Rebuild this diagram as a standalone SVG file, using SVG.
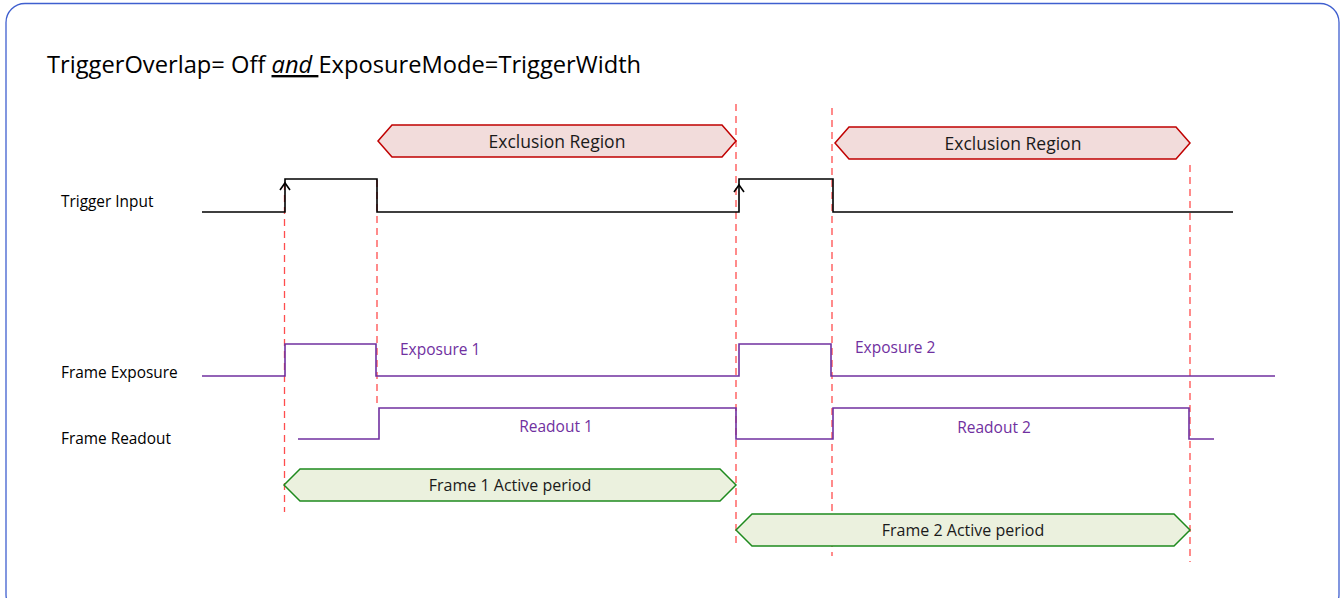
<svg xmlns="http://www.w3.org/2000/svg" width="1341" height="598" viewBox="0 0 1341 598">
<style>
text{font-family:"Open Sans",Lato,"Liberation Sans",sans-serif}
.lbl{font-size:15.4px;fill:#000}
.plbl{font-size:15.5px;fill:#7030a0}
.btxt{font-size:17.5px;fill:#1a1a1a;text-anchor:middle;dominant-baseline:central}
.atxt{font-size:16px}
.dash{stroke:#ff4d4d;stroke-width:1.3;stroke-dasharray:7,5;fill:none}
.sigk{stroke:#000;stroke-width:1.6;fill:none}
.sigp{stroke:#7030a0;stroke-width:1.6;fill:none}
.exc{fill:#f2dcdb;stroke:#c00000;stroke-width:1.5}
.act{fill:#ebf1de;stroke:#1e8a1e;stroke-width:1.5}
</style>
<rect x="6" y="3.5" width="1333" height="610" rx="19" fill="#fff" stroke="#3f5fcf" stroke-width="1.3"/>
<text x="47" y="73" font-size="23.7" fill="#000">TriggerOverlap= Off <tspan font-style="italic" text-decoration="underline">and </tspan>ExposureMode=TriggerWidth</text>
<g id="labels">
<text class="lbl" x="61" y="207">Trigger Input</text>
<text class="lbl" x="61" y="378">Frame Exposure</text>
<text class="lbl" x="61" y="444">Frame Readout</text>
</g>
<g id="guides">
<line class="dash" x1="284.5" y1="183" x2="284.5" y2="512"/>
<line class="dash" x1="377" y1="180" x2="377" y2="405"/>
<line class="dash" x1="736" y1="104" x2="736" y2="546"/>
<line class="dash" x1="832" y1="108" x2="832" y2="556"/>
<line class="dash" x1="1190" y1="165" x2="1190" y2="562"/>
</g>
<g id="trigger">
<path class="sigk" d="M202,212 H285 V179 H377 V212 H739 V179 H833 V212 H1233"/>
<path class="sigk" stroke-width="1.1" d="M280,190 L285,183 L290,190"/>
<path class="sigk" stroke-width="1.1" d="M734,192 L739,185 L744,192"/>
</g>
<g id="exposure">
<path class="sigp" d="M202,376 H285 V344 H376 V376 H739 V344 H831 V376 H1275"/>
<text class="plbl" x="400" y="355">Exposure 1</text>
<text class="plbl" x="855" y="353">Exposure 2</text>
</g>
<g id="readout">
<path class="sigp" d="M298,439 H379 V408 H736 V439 H833 V408 H1189 V439 H1214"/>
<text class="plbl" x="556" y="432" text-anchor="middle">Readout 1</text>
<text class="plbl" x="994" y="433" text-anchor="middle">Readout 2</text>
</g>
<g id="exclusion1">
<polygon class="exc" points="378,141 392,125 722,125 736,141 722,157 392,157"/>
<text class="btxt" x="557" y="141">Exclusion Region</text>
</g>
<g id="exclusion2">
<polygon class="exc" points="835,143 849,127 1176,127 1190,143 1176,159 849,159"/>
<text class="btxt" x="1013" y="143">Exclusion Region</text>
</g>
<g id="active1">
<polygon class="act" points="284,485 300,469 720,469 736,485 720,501 300,501"/>
<text class="btxt atxt" x="510" y="485">Frame 1 Active period</text>
</g>
<g id="active2">
<polygon class="act" points="736,530 752,514 1174,514 1190,530 1174,546 752,546"/>
<text class="btxt atxt" x="963" y="530">Frame 2 Active period</text>
</g>
</svg>
